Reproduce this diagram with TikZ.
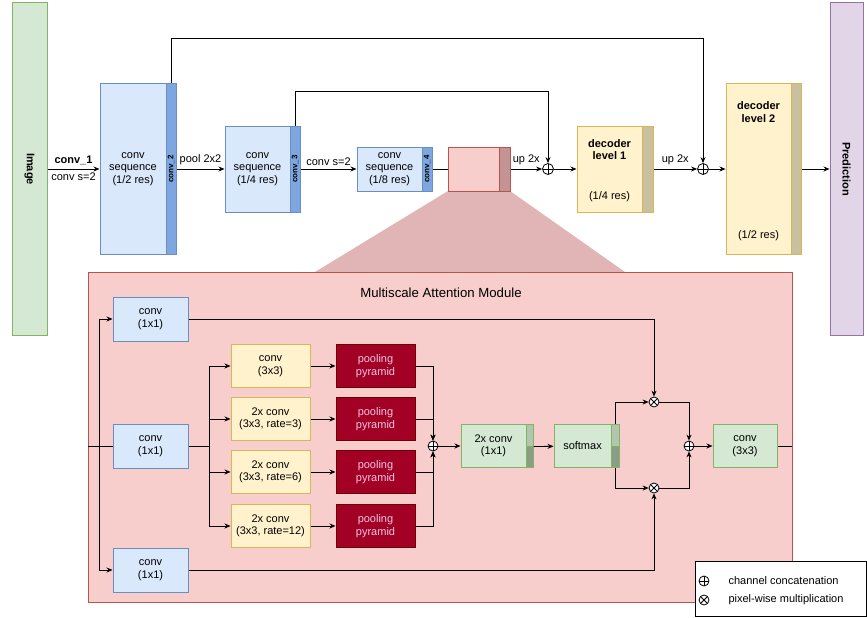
\documentclass[tikz,border=0pt]{standalone}
\usepackage{fontspec}
\setmainfont{Liberation Sans}
\usetikzlibrary{arrows.meta}

\definecolor{imgfill}{HTML}{D5E8D4}
\definecolor{imgline}{HTML}{82B366}
\definecolor{predfill}{HTML}{E1D5E7}
\definecolor{predline}{HTML}{9673A6}
\definecolor{bluefill}{HTML}{DAE8FC}
\definecolor{blueline}{HTML}{6C8EBF}
\definecolor{bluebar}{HTML}{7EA6E0}
\definecolor{yelfill}{HTML}{FFF2CC}
\definecolor{yelline}{HTML}{D6B656}
\definecolor{tanbar}{HTML}{C9C09F}
\definecolor{grnlight}{HTML}{B2C6AD}
\definecolor{grndark}{HTML}{8C9D87}
\definecolor{redfill}{HTML}{F8CECC}
\definecolor{redline}{HTML}{B85450}
\definecolor{redbar}{HTML}{C49494}
\definecolor{trapfill}{HTML}{E1B5B5}
\definecolor{poolfill}{HTML}{A20025}
\definecolor{poolline}{HTML}{6F0000}
\definecolor{pooltext}{HTML}{EEC6E2}

\begin{document}
\begin{tikzpicture}[x=1pt,y=-1pt,
every node/.style={font=\fontsize{11}{12.5}\selectfont,align=center},
wh/.style 2 args={minimum width=#1,minimum height=#2,inner sep=0pt},
blk/.style={line width=1pt},
blu/.style={blk,draw=blueline,fill=bluefill},
blubar/.style={blk,draw=blueline,fill=bluebar},
yel/.style={blk,draw=yelline,fill=yelfill},
tan/.style={blk,draw=yelline,fill=tanbar},
grn/.style={blk,draw=imgline,fill=imgfill},
redbox/.style={blk,draw=redline,fill=redfill},
pool/.style={blk,draw=poolline,fill=poolfill,text=pooltext},
barlbl/.style={rotate=90,font=\fontsize{8}{9}\selectfont\bfseries},
arr/.style={-{Stealth[length=6pt,width=5pt]},line width=0.8pt},
plus/.style={circle,draw,fill=white,line width=0.8pt,minimum size=11pt,inner sep=0pt,
  path picture={\draw[line width=0.8pt] (path picture bounding box.north) -- (path picture bounding box.south)
  (path picture bounding box.west) -- (path picture bounding box.east);}},
times/.style={circle,draw,fill=white,line width=0.8pt,minimum size=11pt,inner sep=0pt,
  path picture={\draw[line width=0.8pt] (path picture bounding box.center) +(45:6pt) -- +(225:6pt)
  +(135:6pt) -- +(-45:6pt);}}]
\useasboundingbox (0,0) rectangle (867,618);

% zoom cone of the module
\fill[trapfill] (448,191) -- (510,191) -- (625,272) -- (315,272) -- cycle;

% encoder / decoder
\node[grn,draw=imgline,wh={35}{332}] (img) at (29.5,169) {};
\node[rotate=-90,font=\fontsize{11}{12.5}\selectfont\bfseries] (imgt) at (img) {Image};
\node[blk,draw=predline,fill=predfill,wh={33}{332}] (pred) at (846.5,169) {};
\node[rotate=-90,font=\fontsize{11}{12.5}\selectfont\bfseries] (predt) at (pred) {Prediction};

\node[blu,wh={66}{171}] (seq2) at (133,169) {conv\\sequence\\(1/2 res)};
\node[blubar,wh={10}{171}] (bar2) at (171,169) {};
\node[barlbl] (l2) at (bar2) {conv\_2};
\node[blu,wh={65}{86}] (seq3) at (257.5,169) {conv\\sequence\\(1/4 res)};
\node[blubar,wh={10}{86}] (bar3) at (295,169) {};
\node[barlbl] (l3) at (bar3) {conv\_3};
\node[blu,wh={65}{44}] (seq4) at (389.5,169) {conv\\sequence\\(1/8 res)};
\node[blubar,wh={10}{44}] (bar4) at (427,169) {};
\node[barlbl] (l4) at (bar4) {conv\_4};
\node[redbox,wh={51}{44}] (red) at (473.5,169) {};
\node[blk,draw=redline,fill=redbar,wh={11}{44}] (rbar) at (504.5,169) {};
\node[plus] (cat1) at (548,169) {};
\node[yel,wh={65}{86}] (dec1) at (609.5,169) {};
\node[tan,wh={11}{86}] (dbar1) at (647.5,169) {};
\node[font=\fontsize{11}{12.5}\selectfont\bfseries] (d1a) at (609.5,149.5) {decoder\\level 1};
\node (d1b) at (609.5,197) {(1/4 res)};
\node[plus] (cat2) at (703,169) {};
\node[yel,wh={65}{171}] (dec2) at (758.5,169) {};
\node[tan,wh={10}{171}] (dbar2) at (796,169) {};
\node[font=\fontsize{11}{12.5}\selectfont\bfseries] (d2a) at (758.5,112) {decoder\\level 2};
\node (d2b) at (758.5,236) {(1/2 res)};

\draw[arr] (img) -- (seq2) node[midway,above,font=\fontsize{11}{12.5}\selectfont\bfseries] (c1a) {conv\_1}
  node[midway,below] (c1b) {conv s=2};
\draw[arr] (bar2) -- (seq3) node[midway,above] (pl) {pool 2x2};
\draw[arr] (bar3) -- (seq4) node[midway,above] (cs) {conv s=2};
\draw[line width=0.8pt] (bar4) -- (red);
\draw[arr] (rbar) -- (cat1) node[midway,above] (up1) {up 2x};
\draw[arr] (cat1) -- (dec1);
\draw[arr] (dbar1) -- (cat2) node[midway,above] (up2) {up 2x};
\draw[arr] (cat2) -- (dec2);
\draw[arr] (dbar2) -- (pred);
\draw[arr] (bar3.north) -- ++(0,-34) -| (cat1);
\draw[arr] (bar2.north) -- ++(0,-45) -| (cat2);

% attention module
\node[redbox,wh={704}{330}] (mod) at (440,437) {};
\node[font=\fontsize{13.2}{15}\selectfont] (title) at (441,293) {Multiscale Attention Module};
\coordinate (in) at (88,446);
\coordinate (split) at (99,446);
\coordinate (fork) at (209,446);
\coordinate (out) at (792,446);

\node[blu,wh={75}{44}] (ct) at (150.5,319) {conv\\(1x1)};
\node[blu,wh={75}{44}] (cm) at (150.5,446) {conv\\(1x1)};
\node[blu,wh={75}{44}] (cb) at (150.5,570) {conv\\(1x1)};
\node[plus,minimum size=10pt] (catm) at (433,446) {};

\draw[line width=0.8pt] (in) -- (cm);
\draw[arr] (split) |- (ct);
\draw[arr] (split) |- (cb);
\draw[line width=0.8pt] (cm) -- (fork);

\foreach \i/\y/\t in {1/366/{conv\\(3x3)},2/419/{2x conv\\(3x3, rate=3)},
  3/472/{2x conv\\(3x3, rate=6)},4/526/{2x conv\\(3x3, rate=12)}}
{
\node[yel,wh={79}{43}] (y\i) at (270.5,\y) {\t};
\node[pool,wh={79}{43}] (p\i) at (375.5,\y) {pooling\\pyramid};
\draw[arr] (fork) |- (y\i);
\draw[arr] (y\i) -- (p\i);
\draw[arr] (p\i) -| (catm);
}

\node[grn,wh={65}{43}] (g1) at (493.5,446) {2x conv\\(1x1)};
\node[blk,draw=imgline,fill=grnlight,wh={7}{21.5}] (g1a) at (529.5,435.25) {};
\node[blk,draw=imgline,fill=grndark,wh={7}{21.5}] (g1b) at (529.5,456.75) {};
\node[grn,wh={57}{43}] (soft) at (582.5,446) {softmax};
\node[blk,draw=imgline,fill=grnlight,wh={8}{21.5}] (sa) at (615,435.25) {};
\node[blk,draw=imgline,fill=grndark,wh={8}{21.5}] (sb) at (615,456.75) {};
\node[times,minimum size=10pt] (mt) at (654,402) {};
\node[times,minimum size=10pt] (mb) at (654,488) {};
\node[plus,minimum size=10pt] (cat) at (689,446) {};
\node[grn,wh={64}{43}] (g3) at (745,446) {conv\\(3x3)};

\draw[arr] (catm) -- (g1);
\draw[arr] (g1a.south east) -- (soft);
\draw[arr] (sa.north) |- (mt);
\draw[arr] (sb.south) |- (mb);
\draw[arr] (ct) -| (mt);
\draw[arr] (cb) -| (mb);
\draw[arr] (mt) -| (cat);
\draw[arr] (mb) -| (cat);
\draw[arr] (cat) -- (g3);
\draw[line width=0.8pt] (g3) -- (out);

% legend
\node[draw,fill=white,line width=0.8pt,wh={171}{55}] (leg) at (780.5,588.5) {};
\node[plus,minimum size=10pt] (lp) at (704,581) {};
\node[anchor=west] (lpt) at (725,581) {channel concatenation};
\node[times,minimum size=10pt] (lt) at (704,600) {};
\node[anchor=west] (ltt) at (725,600) {pixel-wise multiplication};
\end{tikzpicture}
\end{document}
